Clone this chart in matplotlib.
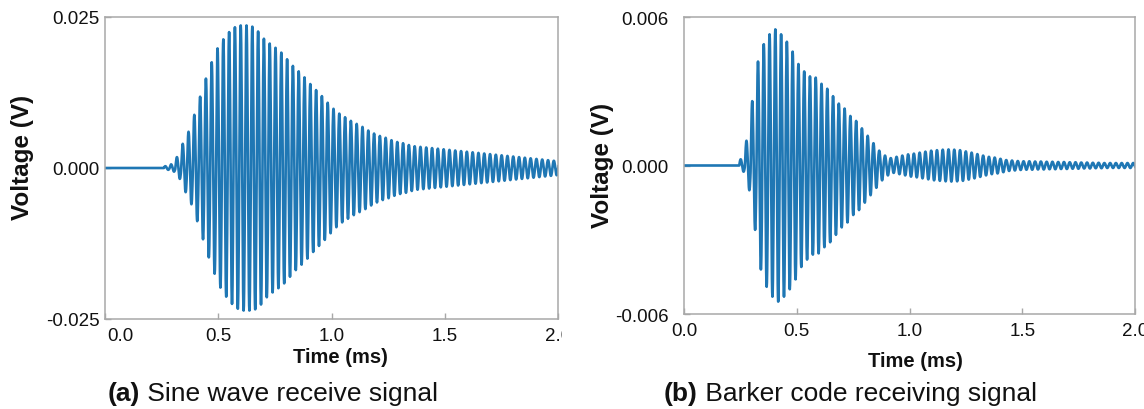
import numpy as np
import matplotlib
matplotlib.use("Agg")
import matplotlib.pyplot as plt
from matplotlib.transforms import Bbox, ScaledTranslation

plt.rcParams['font.family'] = ['Liberation Sans', 'DejaVu Sans']
plt.rcParams['axes.unicode_minus'] = False

# ---------------- data ----------------
period_ms = 0.0256          # carrier period (~39 kHz)

# (a) sine-wave excitation: start time and peak amplitude (V) of each cycle
sine_start_ms = 0.26
sine_peaks = [0.0003, 0.0006, 0.0018, 0.0040, 0.0060, 0.0088, 0.0118, 0.0148, 0.0175, 0.0198,
              0.0213, 0.0225, 0.0233, 0.0236, 0.0236, 0.0234, 0.0226, 0.0214, 0.0206, 0.0199,
              0.0191, 0.0180, 0.0169, 0.0160, 0.0150, 0.0139, 0.0129, 0.0119, 0.0108, 0.0098,
              0.0090, 0.0084, 0.0078, 0.0073, 0.0068, 0.0062, 0.0057, 0.0053, 0.0050, 0.0046,
              0.0043, 0.0041, 0.0038, 0.0036, 0.0035, 0.0034, 0.0033, 0.0032, 0.0031, 0.0030,
              0.0029, 0.0028, 0.0027, 0.0026, 0.0025, 0.0024, 0.0023, 0.0022, 0.0021, 0.0020,
              0.0019, 0.0018, 0.0017, 0.0016, 0.0015, 0.0014, 0.0013, 0.0012, 0.0011, 0.0010]

# (b) Barker-code excitation
barker_start_ms = 0.245
barker_peaks = [0.00025, 0.0010, 0.0026, 0.0042, 0.0049, 0.0053, 0.0055, 0.0053, 0.0050, 0.0046,
                0.0041, 0.0038, 0.0036, 0.00355, 0.0033, 0.0031, 0.0028, 0.0025, 0.0023, 0.0020,
                0.0018, 0.0015, 0.0012, 0.0009, 0.0006, 0.0004, 0.0003, 0.00035, 0.0004, 0.00045,
                0.00048, 0.00052, 0.00056, 0.0006, 0.00062, 0.00064, 0.00065, 0.00064, 0.00062, 0.00057,
                0.00052, 0.00046, 0.0004, 0.00035, 0.00032, 0.00027, 0.00022, 0.0002, 0.00018, 0.00017,
                0.00017, 0.00016, 0.00016, 0.00015, 0.00015, 0.00014, 0.00014, 0.00013, 0.00013, 0.00012,
                0.00012, 0.00011, 0.00011, 0.0001, 0.0001, 0.0001, 0.0001, 0.0001, 0.0001, 0.0001]

sine_yticks = [-0.025, 0.0, 0.025]
barker_yticks = [-0.006, 0.0, 0.006]
xticks = [0.0, 0.5, 1.0, 1.5, 2.0]
xlabel = "Time (ms)"
ylabel = "Voltage (V)"
captions = [("(a)", " Sine wave receive signal"), ("(b)", " Barker code receiving signal")]


def waveform(start, peaks, period, n=24):
    t = [np.array([0.0, start])]
    v = [np.array([0.0, 0.0])]
    ph = np.linspace(0, 1, n, endpoint=False)[1:]
    for k, a in enumerate(peaks):
        tk = start + (k + ph) * period
        t.append(tk)
        v.append(a * np.sin(2 * np.pi * ph))
    return np.concatenate(t), np.concatenate(v)


W, H = 1144, 410
fig = plt.figure(figsize=(W / 100, H / 100), dpi=100)

def px_axes(l, r, top, bottom):
    return fig.add_axes([l / W, 1 - bottom / H, (r - l) / W, (bottom - top) / H])

axA = px_axes(105, 558, 18, 320)
axB = px_axes(684, 1135, 18, 315)

color = '#1f77b4'
spine_c = '#a8a8a8'

for ax, (start, peaks), yt, xlim, ypad in [
        (axA, (sine_start_ms, sine_peaks), sine_yticks, (0.0, 2.0), 4),
        (axB, (barker_start_ms, barker_peaks), barker_yticks, (0.0, 1.98), 11)]:
    t, v = waveform(start, peaks, period_ms)
    ax.plot(t, v, color=color, lw=1.9, solid_joinstyle='round')
    ax.set_xlim(*xlim)
    ax.set_ylim(yt[0], yt[-1])
    ax.set_yticks(yt)
    ax.set_yticklabels([f"{y:.3f}" for y in yt])
    ax.set_xticks(xticks)
    ax.set_xticklabels([f"{x:.1f}" for x in xticks])
    for s in ax.spines.values():
        s.set_color(spine_c)
        s.set_linewidth(1.1)
    ax.tick_params(axis='both', direction='in', length=4, width=1, color=spine_c,
                   labelsize=13.5, labelcolor='#111111')
    ax.tick_params(axis='y', pad=ypad)
    ax.tick_params(axis='x', pad=6)

# axis labels
fig.text(22 / W, 1 - 157 / H, ylabel, rotation=90, ha='center', va='center',
         fontsize=17.5, fontweight='bold', color='#111111')
fig.text(603 / W, 1 - 165 / H, ylabel, rotation=90, ha='center', va='center',
         fontsize=17.5, fontweight='bold', color='#111111')
fig.text(340 / W, 1 - 358 / H, xlabel, ha='center', va='center',
         fontsize=14.5, fontweight='bold', color='#111111')
fig.text(915 / W, 1 - 362 / H, xlabel, ha='center', va='center',
         fontsize=14.5, fontweight='bold', color='#111111')

fig.canvas.draw()
renderer = fig.canvas.get_renderer()

# captions: bold tag + regular text
for (tag, rest), x0 in zip(captions, [108, 664]):
    t1 = fig.text(x0 / W, 1 - 394 / H, tag, ha='left', va='center', fontsize=19,
                  fontweight='bold', color='#111111')
    bb = t1.get_window_extent(renderer)
    fig.text(bb.x1 / W, 1 - 394 / H, rest, ha='left', va='center', fontsize=19,
             color='#111111')

# panel (a) is cropped at its right border; first x label is nudged right
clipA = Bbox.from_extents(0, 0, 562, H)
for lab in axA.get_xticklabels():
    lab.set_clip_box(clipA)
    lab.set_clip_on(True)
first = axA.get_xticklabels()[0]
first.set_transform(first.get_transform() + ScaledTranslation(0.15, 0, fig.dpi_scale_trans))

fig.savefig("out.png", dpi=100)
